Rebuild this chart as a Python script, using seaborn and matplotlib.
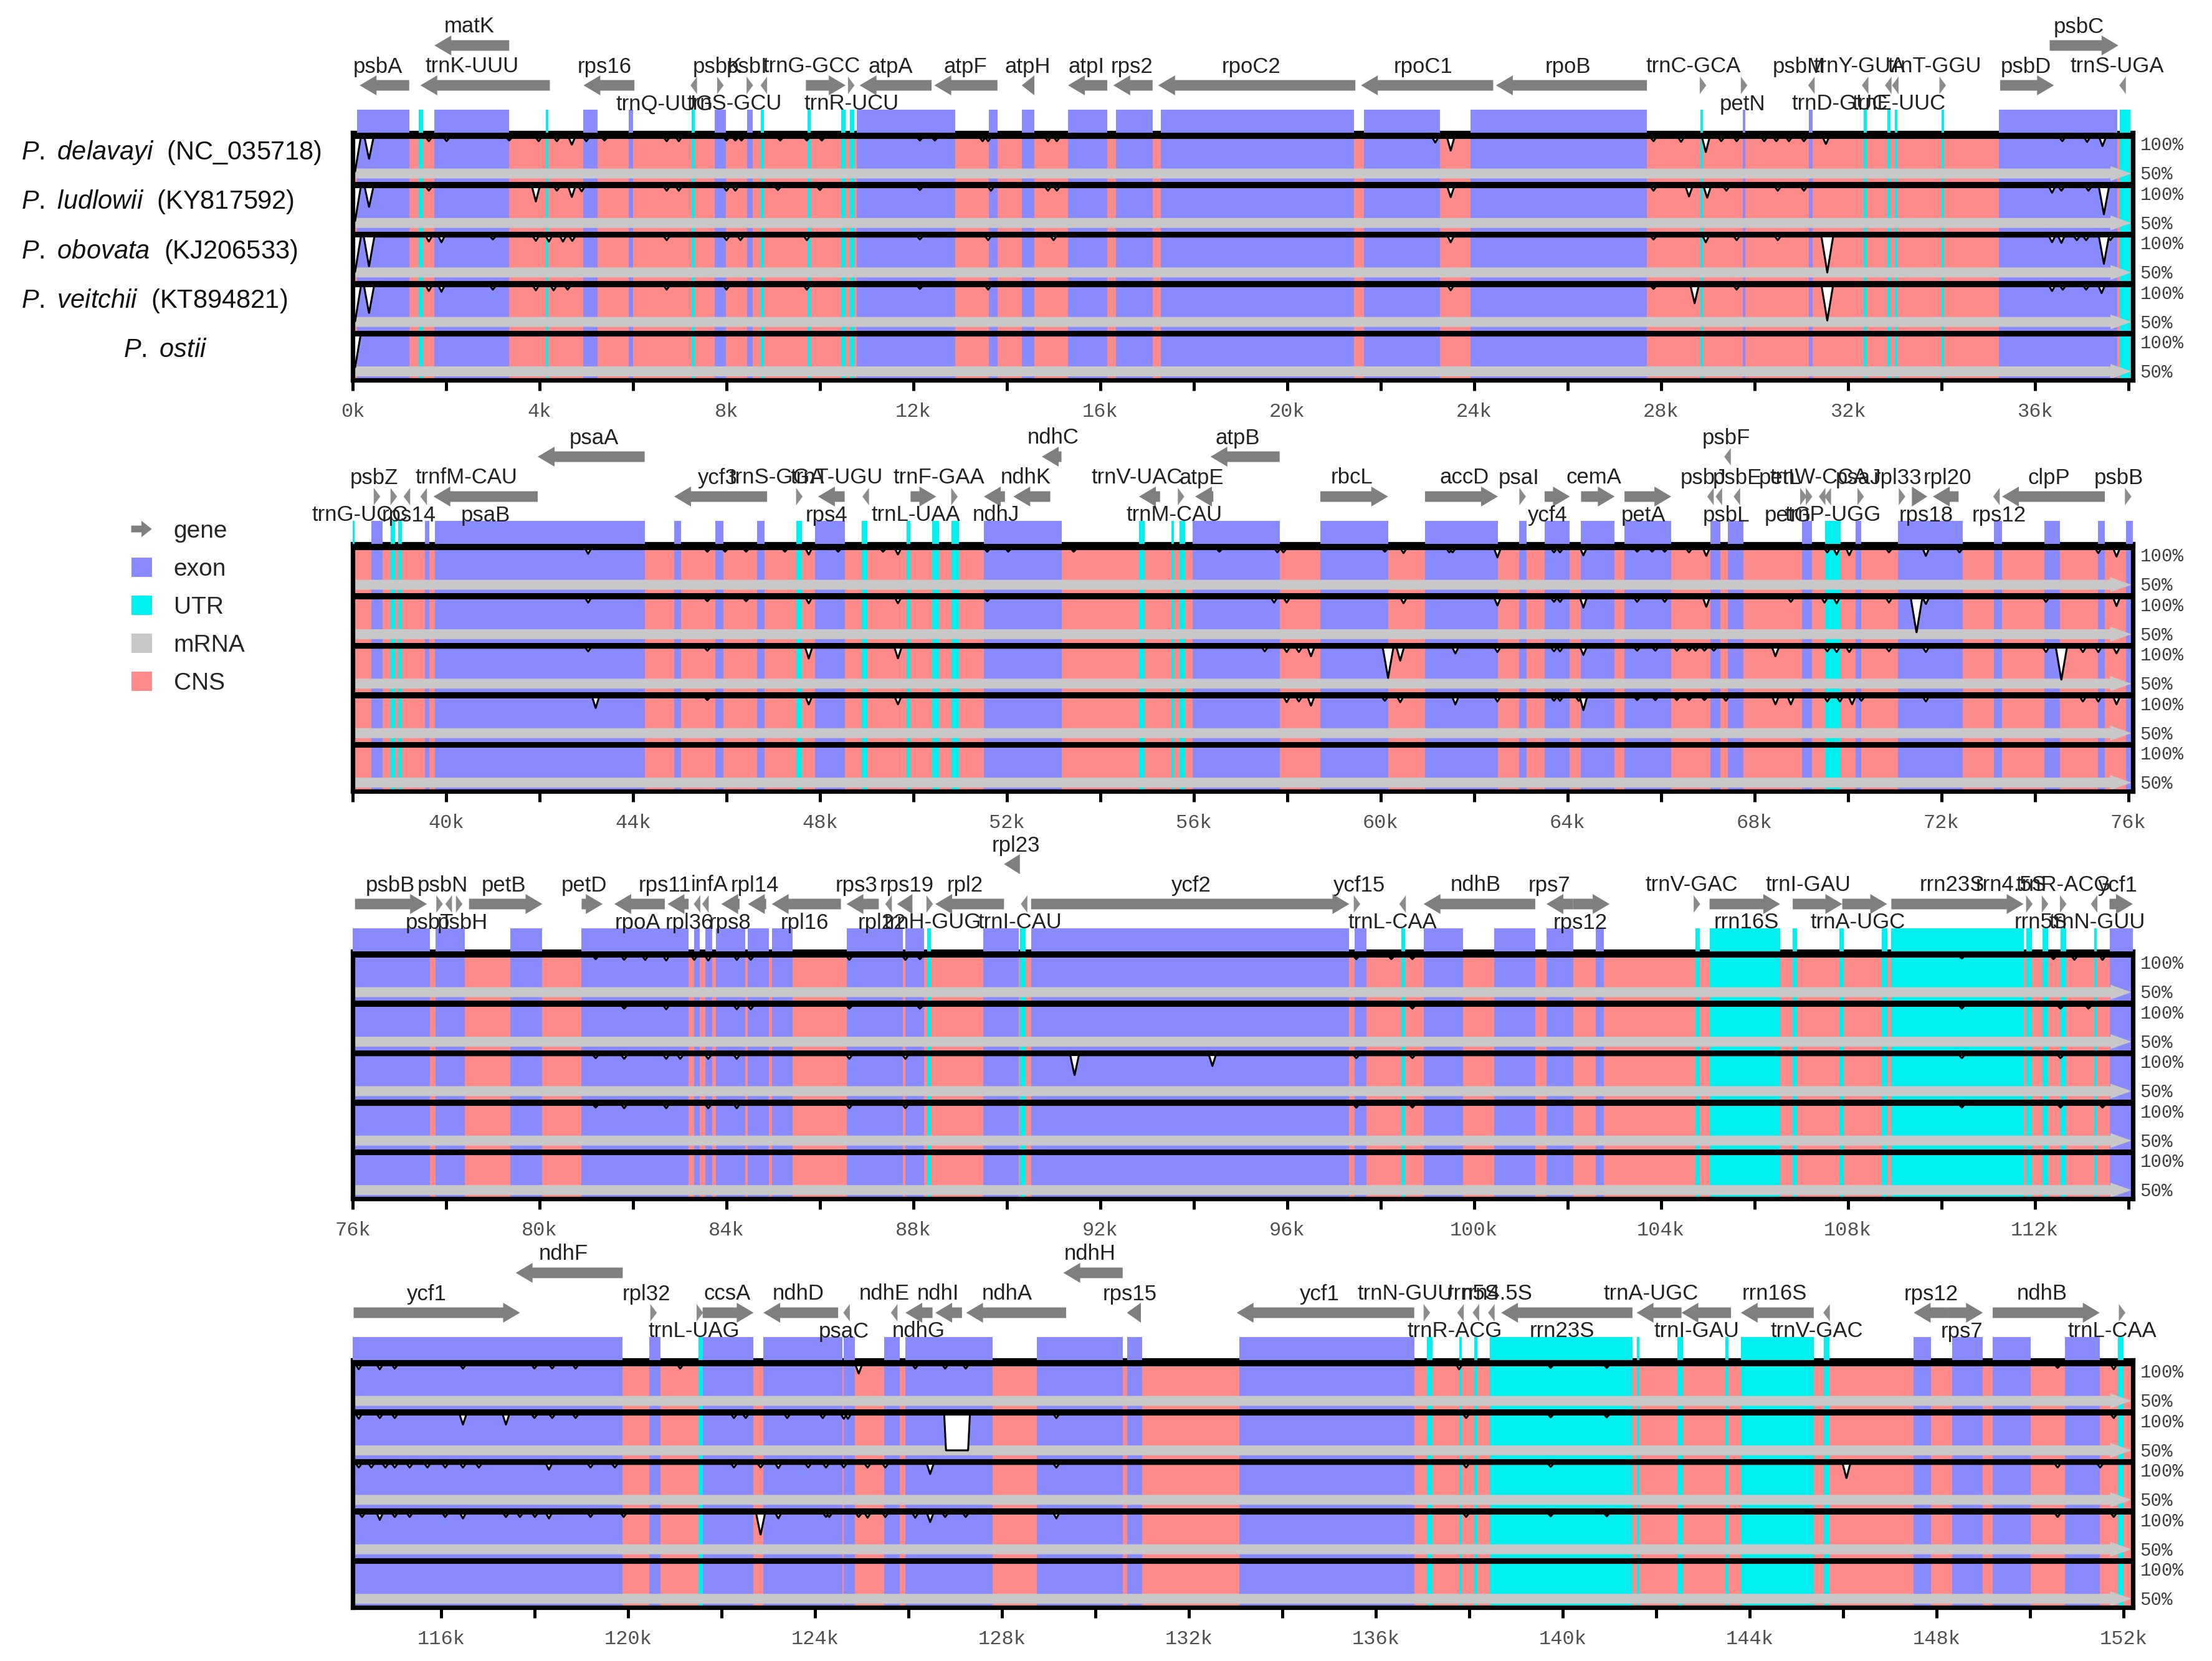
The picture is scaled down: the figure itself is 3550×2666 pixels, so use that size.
import numpy as np
import matplotlib
matplotlib.use("Agg")
import matplotlib.pyplot as plt
import matplotlib.patches as mpatches
import matplotlib.transforms as mtransforms
from matplotlib.legend_handler import HandlerPatch
import seaborn as sns

sns.set_theme(style="white")
plt.rcParams["font.family"] = ["Liberation Sans", "DejaVu Sans"]
plt.rcParams["mathtext.fontset"] = "custom"
plt.rcParams["mathtext.it"] = "Liberation Sans:italic"
plt.rcParams["mathtext.rm"] = "Liberation Sans"

# colours (mVISTA)
EXON = "#8A8AFF"
UTR = "#00F0F0"
CNS = "#FF8A8A"
MRNA = "#C8C8C8"
GENE = "#7F7F7F"

# panels (kb)
panel_start = [0.0, 38.0, 76.0, 114.1]
panel_len = 38.1

species = ["P. delavayi", "P. ludlowii", "P. obovata", "P. veitchii", "P. ostii"]
accession = ["(NC_035718)", "(KY817592)", "(KJ206533)", "(KT894821)", ""]

# annotation of the reference (P. ostii), kb
exon_blocks = [
    (0.09, 1.21), (1.75, 3.35), (4.94, 5.24), (5.91, 6.00), (7.75, 7.99), (8.44, 8.56),
    (10.79, 12.90), (13.62, 13.80), (14.32, 14.59), (15.31, 16.15), (16.34, 17.12),
    (17.30, 21.43), (21.64, 23.27), (23.93, 27.70), (29.75, 29.81), (31.16, 31.25),
    (35.23, 37.76),
    (38.40, 38.64), (39.55, 39.64), (39.76, 44.25), (44.88, 45.03), (45.76, 45.94),
    (46.66, 46.81), (47.90, 48.53), (51.51, 53.17), (55.97, 57.84), (58.71, 60.16),
    (60.95, 62.51), (62.96, 63.12), (63.51, 64.05), (64.29, 65.01), (65.22, 66.22),
    (67.06, 67.27), (67.43, 67.76), (69.02, 69.23), (70.17, 70.29), (71.07, 72.46),
    (73.12, 73.30), (74.21, 74.54), (75.35, 75.50), (75.95, 77.65),
    (77.77, 78.40), (79.37, 80.06), (80.90, 83.19), (83.31, 83.43), (83.55, 83.70),
    (83.77, 84.40), (84.46, 84.91), (84.97, 85.42), (86.57, 87.77), (87.83, 88.23),
    (89.49, 90.25), (90.52, 97.33), (97.45, 97.70), (98.92, 99.77), (100.43, 101.31),
    (101.55, 102.12), (102.60, 102.78), (113.60, 119.88),
    (120.45, 120.69), (121.59, 122.68), (122.89, 124.58), (124.61, 124.85),
    (125.48, 125.81), (125.93, 127.80), (128.74, 130.58), (130.67, 131.00),
    (133.08, 136.82), (147.51, 147.88), (148.33, 148.99), (149.20, 150.01),
    (150.74, 151.49),
]

utr_blocks = [
    (1.42, 1.51), (4.13, 4.19), (7.26, 7.32), (8.74, 8.80), (9.73, 9.80), (10.46, 10.55),
    (10.64, 10.73), (28.84, 28.90), (32.34, 32.40), (32.85, 32.91), (33.00, 33.06),
    (34.00, 34.06), (37.82, 38.04),
    (38.82, 38.91), (38.97, 39.06), (47.50, 47.62), (48.89, 49.01), (49.85, 49.94),
    (50.40, 50.55), (50.82, 50.97), (54.83, 54.95), (55.52, 55.58), (55.70, 55.82),
    (69.51, 69.84),
    (88.29, 88.38), (90.28, 90.40), (98.44, 98.53), (104.74, 104.83), (105.04, 106.55),
    (106.82, 106.91), (107.82, 107.91), (108.72, 108.84), (108.93, 111.76),
    (111.82, 111.94), (112.16, 112.28), (112.55, 112.67), (113.27, 113.33),
    (121.50, 121.59), (137.09, 137.21), (137.78, 137.84), (138.11, 138.17),
    (138.44, 141.49), (141.58, 141.64), (142.45, 142.57), (143.48, 143.54),
    (143.81, 145.37), (145.58, 145.70), (151.88, 152.00),
]

# genes: name, start, end, strand, tier, label centre
genes_row1 = [
    ("psbA", 0.15, 1.21, "-", "top", 0.54), ("trnK-UUU", 1.45, 4.22, "-", "top", 2.56),
    ("matK", 1.75, 3.35, "-", "up", 2.50), ("rps16", 4.94, 6.03, "-", "top", 5.39),
    ("trnQ-UUG", 7.25, 7.35, "-", "bot", 6.68), ("psbK", 7.75, 7.99, "+", "top", 7.81),
    ("psbI", 8.44, 8.56, "+", "top", 8.44), ("trnS-GCU", 8.77, 8.83, "-", "bot", 8.17),
    ("trnG-GCC", 9.70, 10.55, "+", "top", 9.83), ("trnR-UCU", 10.61, 10.73, "+", "bot", 10.67),
    ("atpA", 10.85, 12.39, "-", "top", 11.51), ("atpF", 12.45, 13.80, "-", "top", 13.11),
    ("atpH", 14.32, 14.59, "-", "top", 14.44), ("atpI", 15.31, 16.15, "-", "top", 15.70),
    ("rps2", 16.28, 17.12, "-", "top", 16.67), ("rpoC2", 17.24, 21.46, "-", "top", 19.23),
    ("rpoC1", 21.58, 24.41, "-", "top", 22.91), ("rpoB", 24.47, 27.70, "-", "top", 26.01),
    ("trnC-GCA", 28.87, 28.93, "+", "top", 28.69), ("petN", 29.72, 29.84, "+", "bot", 29.75),
    ("psbM", 31.16, 31.28, "-", "top", 30.95), ("trnD-GUC", 32.31, 32.43, "-", "bot", 31.83),
    ("trnY-GUA", 32.82, 32.91, "-", "top", 32.25), ("trnE-UUC", 32.97, 33.06, "-", "bot", 33.09),
    ("trnT-GGU", 33.97, 34.09, "+", "top", 33.85), ("psbD", 35.26, 36.41, "+", "top", 35.81),
    ("psbC", 36.32, 37.79, "+", "up", 36.95), ("trnS-UGA", 37.82, 37.94, "-", "top", 37.76),
]
genes_row2 = [
    ("psbZ", 38.40, 38.64, "+", "top", 38.46), ("trnG-UCC", 38.85, 38.91, "+", "bot", 38.15),
    ("trnfM-CAU", 39.13, 39.19, "-", "top", 40.43), ("rps14", 39.43, 39.61, "-", "bot", 39.20),
    ("psaB", 39.73, 41.96, "-", "bot", 40.85), ("psaA", 41.96, 44.25, "-", "up", 43.16),
    ("ycf3", 44.88, 46.87, "-", "top", 45.81), ("trnS-GGA", 47.53, 47.59, "+", "top", 47.08),
    ("rps4", 47.96, 48.53, "-", "bot", 48.14), ("trnT-UGU", 48.95, 49.01, "-", "top", 48.36),
    ("trnL-UAA", 49.94, 50.49, "+", "bot", 50.05), ("trnF-GAA", 50.82, 50.94, "+", "top", 50.55),
    ("ndhJ", 51.51, 51.96, "-", "bot", 51.77), ("ndhK", 52.14, 52.93, "-", "top", 52.41),
    ("ndhC", 52.75, 53.17, "-", "up", 52.99), ("trnV-UAC", 54.83, 55.28, "-", "top", 54.79),
    ("trnM-CAU", 55.70, 55.76, "+", "bot", 55.59), ("atpE", 56.03, 56.42, "-", "top", 56.17),
    ("atpB", 56.36, 57.84, "-", "up", 56.94), ("rbcL", 58.71, 60.16, "+", "top", 59.38),
    ("accD", 60.95, 62.51, "+", "top", 61.79), ("psaI", 62.96, 63.12, "+", "top", 62.96),
    ("ycf4", 63.51, 64.05, "+", "bot", 63.57), ("cemA", 64.29, 65.01, "+", "top", 64.56),
    ("petA", 65.22, 66.22, "+", "bot", 65.62), ("psbJ", 67.03, 67.09, "-", "top", 66.91),
    ("psbL", 67.21, 67.27, "-", "bot", 67.40), ("psbF", 67.39, 67.46, "-", "up", 67.40),
    ("psbE", 67.52, 67.73, "-", "top", 67.64), ("petL", 69.02, 69.08, "+", "top", 68.54),
    ("petG", 69.14, 69.20, "+", "bot", 68.72), ("trnW-CCA", 69.42, 69.48, "-", "top", 69.38),
    ("trnP-UGG", 69.54, 69.60, "-", "bot", 69.68), ("psaJ", 70.23, 70.32, "+", "top", 70.23),
    ("rpl33", 71.07, 71.25, "+", "top", 71.07), ("rps18", 71.37, 71.70, "+", "bot", 71.67),
    ("rpl20", 71.82, 72.37, "-", "top", 72.13), ("rps12", 73.15, 73.21, "-", "bot", 73.24),
    ("clpP", 73.30, 75.50, "-", "top", 74.30), ("psbB", 75.92, 76.08, "+", "top", 75.80),
]
genes_row3 = [
    ("psbB", 76.05, 77.59, "+", "top", 76.80), ("psbT", 77.83, 77.89, "+", "bot", 77.64),
    ("psbN", 77.98, 78.13, "-", "top", 77.92), ("psbH", 78.16, 78.40, "+", "bot", 78.35),
    ("petB", 78.49, 80.06, "+", "top", 79.24), ("petD", 80.90, 81.35, "+", "top", 80.96),
    ("rpoA", 81.60, 82.68, "-", "bot", 82.10), ("rps11", 82.74, 83.19, "-", "top", 82.68),
    ("rpl36", 83.34, 83.40, "-", "bot", 83.20), ("infA", 83.52, 83.58, "-", "top", 83.63),
    ("rps8", 83.89, 84.28, "-", "bot", 84.08), ("rpl14", 84.46, 84.85, "-", "top", 84.61),
    ("rpl16", 84.97, 86.45, "-", "bot", 85.67), ("rps3", 86.57, 87.26, "-", "top", 86.78),
    ("rpl22", 87.35, 87.59, "-", "bot", 87.33), ("rps19", 87.65, 87.98, "-", "top", 87.86),
    ("trnH-GUG", 88.32, 88.38, "+", "bot", 88.41), ("rpl2", 88.47, 89.94, "-", "top", 89.11),
    ("rpl23", 89.94, 90.28, "-", "up", 90.19), ("trnI-CAU", 90.34, 90.40, "-", "bot", 90.28),
    ("ycf2", 90.52, 97.33, "+", "top", 93.95), ("ycf15", 97.39, 97.60, "+", "top", 97.54),
    ("trnL-CAA", 98.44, 98.50, "-", "bot", 98.26), ("ndhB", 98.92, 101.31, "-", "top", 100.04),
    ("rps7", 101.55, 102.12, "-", "top", 101.61), ("rps12", 102.12, 102.90, "+", "bot", 102.27),
    ("trnV-GAC", 104.74, 104.80, "+", "top", 104.65), ("rrn16S", 105.04, 106.55, "+", "bot", 105.83),
    ("trnI-GAU", 106.82, 107.88, "+", "top", 107.15), ("trnA-UGC", 107.88, 108.84, "+", "bot", 108.21),
    ("rrn23S", 108.93, 111.76, "+", "top", 110.23), ("rrn4.5S", 111.85, 111.92, "+", "top", 111.49),
    ("rrn5S", 112.19, 112.25, "+", "bot", 112.13), ("trnR-ACG", 112.58, 112.64, "+", "top", 112.61),
    ("trnN-GUU", 113.24, 113.30, "-", "bot", 113.33), ("ycf1", 113.60, 114.10, "+", "top", 113.78),
]
genes_row4 = [
    ("ycf1", 114.12, 117.68, "+", "top", 115.69), ("ndhF", 117.59, 119.88, "-", "up", 118.61),
    ("rpl32", 120.45, 120.63, "+", "top", 120.39), ("trnL-UAG", 121.50, 121.56, "+", "bot", 121.41),
    ("ccsA", 121.59, 122.68, "+", "top", 122.11), ("ndhD", 122.89, 124.49, "-", "top", 123.64),
    ("psaC", 124.58, 124.76, "-", "bot", 124.61), ("ndhE", 125.57, 125.81, "-", "top", 125.48),
    ("ndhG", 125.93, 126.51, "-", "bot", 126.21), ("ndhI", 126.57, 127.14, "-", "top", 126.63),
    ("ndhA", 127.23, 129.37, "-", "top", 128.10), ("ndhH", 129.31, 130.58, "-", "up", 129.88),
    ("rps15", 130.67, 130.97, "-", "top", 130.73), ("ycf1", 133.02, 136.82, "-", "top", 134.80),
    ("trnN-GUU", 137.06, 137.12, "+", "top", 136.63), ("trnR-ACG", 137.78, 137.84, "-", "bot", 137.69),
    ("rrn5S", 138.11, 138.17, "-", "top", 138.08), ("rrn4.5S", 138.44, 138.50, "-", "top", 138.59),
    ("rrn23S", 138.68, 141.49, "-", "bot", 139.98), ("trnA-UGC", 141.58, 142.54, "-", "top", 141.88),
    ("trnI-GAU", 142.54, 143.60, "-", "bot", 142.87), ("rrn16S", 143.81, 145.37, "-", "top", 144.53),
    ("trnV-GAC", 145.61, 145.68, "-", "bot", 145.43), ("rps12", 147.51, 148.24, "-", "top", 147.88),
    ("rps7", 148.24, 148.99, "+", "bot", 148.54), ("ndhB", 149.20, 151.49, "+", "top", 150.26),
    ("trnL-CAA", 151.94, 152.00, "+", "bot", 151.76),
]
genes_by_row = [genes_row1, genes_row2, genes_row3, genes_row4]

# conservation dips: (position kb, lowest identity %)
dips_delavayi = [
    (0.05, 52), (0.35, 70), (1.63, 95), (2.01, 95), (3.35, 96), (3.98, 95), (4.37, 95),
    (4.69, 90), (5.00, 95), (5.39, 96), (6.72, 95), (6.98, 95), (8.00, 96), (8.19, 96),
    (8.32, 96), (9.15, 96), (9.72, 96), (10.04, 96), (12.14, 96), (12.46, 96), (13.48, 95),
    (13.60, 95), (14.88, 95), (15.07, 95), (23.17, 93), (23.50, 82), (27.84, 95), (28.43, 94),
    (28.96, 80), (29.29, 95), (29.62, 95), (30.21, 95), (30.47, 95), (30.74, 95), (31.06, 95),
    (31.53, 91), (36.59, 95), (37.12, 94), (37.45, 88),
    (43.04, 93), (45.59, 96), (45.97, 96), (46.42, 96), (47.25, 96), (47.76, 92), (48.39, 96),
    (49.35, 96), (49.67, 92), (51.58, 96), (52.03, 96), (53.43, 96), (56.55, 96), (57.79, 95),
    (57.92, 95), (60.09, 96), (60.49, 94), (61.47, 95), (61.54, 95), (62.50, 88), (63.71, 95),
    (63.84, 95), (64.34, 91), (65.49, 96), (65.81, 96), (66.08, 96), (66.60, 95), (66.97, 90),
    (69.56, 95), (69.76, 92), (70.03, 91), (70.88, 95), (71.67, 90), (72.39, 95), (75.36, 94),
    (75.75, 89),
    (81.20, 96), (81.81, 95), (82.26, 95), (82.71, 94), (83.31, 95), (83.61, 94), (84.22, 95),
    (84.52, 95), (86.63, 95), (87.83, 95), (88.14, 96), (97.48, 96), (98.23, 96), (98.68, 96),
    (110.44, 97), (112.40, 96), (112.85, 95), (113.45, 95),
    (114.23, 94), (114.68, 94), (115.00, 95), (116.46, 95), (117.99, 95), (118.37, 95),
    (118.87, 95), (121.11, 95), (124.93, 88), (126.14, 95), (126.78, 95), (127.22, 95),
    (137.78, 94), (139.74, 96), (140.94, 96), (150.59, 96), (151.79, 94),
]
dips_ludlowii = [
    (0.05, 52), (0.35, 72), (1.63, 95), (3.92, 80), (4.37, 95), (4.69, 86), (4.90, 94),
    (6.72, 95), (6.98, 95), (8.00, 95), (8.19, 95), (9.10, 96), (10.00, 96), (12.14, 96),
    (13.66, 95), (14.88, 95), (15.07, 95), (23.50, 86), (27.84, 95), (28.60, 87), (28.99, 85),
    (29.40, 95), (30.50, 95), (31.06, 95), (36.37, 92), (36.57, 95), (37.15, 95), (37.48, 62),
    (43.04, 94), (45.59, 96), (46.42, 96), (47.76, 93), (49.67, 93), (51.58, 96), (57.72, 94),
    (57.99, 94), (60.49, 93), (62.50, 90), (63.71, 95), (63.84, 95), (64.34, 87), (65.49, 95),
    (66.08, 95), (66.97, 88), (68.78, 95), (69.50, 94), (69.76, 93), (70.88, 94), (71.47, 52),
    (71.67, 92), (74.24, 95), (75.75, 89),
    (81.81, 96), (82.71, 95), (84.22, 95), (84.52, 95), (86.63, 96), (88.14, 96), (98.68, 96),
    (110.44, 96), (112.55, 96), (113.15, 96),
    (114.23, 94), (114.68, 95), (115.00, 95), (116.46, 86), (117.38, 86), (117.99, 95),
    (118.37, 95), (118.87, 95), (122.26, 95), (122.51, 95), (123.40, 95), (124.16, 95),
    (124.61, 94), (124.70, 94), (129.16, 95), (137.93, 95), (139.74, 96), (140.94, 96),
    (151.79, 95),
]
gaps_ludlowii = [(126.80, 127.27, 48)]
dips_obovata = [
    (0.05, 50), (0.35, 58), (1.63, 93), (1.90, 92), (3.00, 96), (3.92, 94), (4.20, 93),
    (4.50, 93), (4.70, 94), (6.72, 95), (8.00, 95), (8.30, 95), (9.72, 95), (12.14, 96),
    (13.60, 95), (15.00, 95), (23.50, 92), (27.84, 96), (28.96, 92), (29.62, 95), (30.50, 95),
    (31.56, 50), (36.37, 92), (36.57, 91), (36.90, 95), (37.10, 95), (37.48, 62), (37.62, 95),
    (43.04, 95), (45.59, 96), (47.76, 85), (49.67, 85), (57.52, 95), (57.99, 94), (58.25, 94),
    (58.51, 88), (60.16, 58), (60.42, 82), (61.60, 92), (62.50, 94), (63.71, 95), (63.84, 95),
    (64.34, 90), (65.49, 96), (65.88, 96), (66.34, 96), (66.60, 96), (66.74, 96), (66.93, 96),
    (67.13, 96), (68.45, 88), (69.56, 95), (69.76, 94), (70.03, 94), (70.88, 95), (71.67, 94),
    (74.24, 94), (74.57, 55), (75.03, 94), (75.36, 94), (75.75, 92),
    (81.20, 96), (81.81, 95), (82.71, 95), (83.01, 95), (83.61, 95), (84.22, 95), (86.63, 95),
    (87.83, 95), (91.45, 72), (94.40, 85), (97.48, 96), (98.68, 96), (110.44, 96), (112.55, 96),
    (114.23, 95), (114.50, 95), (114.80, 95), (115.00, 95), (115.32, 95), (115.70, 95),
    (116.08, 95), (116.46, 95), (116.80, 95), (118.30, 92), (119.19, 95), (119.71, 95),
    (122.26, 95), (122.83, 95), (123.21, 94), (123.85, 95), (124.23, 95), (124.61, 95),
    (125.12, 95), (125.50, 95), (126.46, 86), (129.16, 95), (137.93, 95), (139.74, 96),
    (146.07, 80), (150.59, 95), (151.50, 95),
]
dips_veitchii = [
    (0.05, 50), (0.35, 62), (1.63, 93), (1.90, 92), (3.00, 95), (3.92, 94), (4.30, 94),
    (4.60, 95), (6.72, 95), (8.00, 95), (9.72, 95), (12.14, 96), (13.60, 95), (23.50, 94),
    (27.84, 96), (28.72, 76), (29.62, 95), (31.56, 52), (36.37, 93), (36.60, 95), (37.10, 95),
    (37.43, 90),
    (43.20, 85), (45.59, 96), (47.76, 90), (49.67, 90), (57.99, 93), (58.25, 94), (58.51, 88),
    (60.09, 95), (60.42, 93), (61.60, 90), (62.50, 94), (63.71, 95), (63.84, 95), (64.24, 95),
    (64.34, 82), (65.49, 96), (65.88, 96), (66.34, 96), (66.60, 96), (66.93, 96), (67.39, 95),
    (68.45, 90), (68.78, 90), (69.56, 94), (69.83, 94), (70.09, 90), (70.29, 95), (71.67, 94),
    (75.03, 94), (75.36, 94), (75.75, 90),
    (81.20, 96), (81.81, 95), (82.71, 95), (83.61, 95), (84.22, 95), (86.63, 95), (87.83, 95),
    (97.48, 96), (98.68, 96), (110.44, 96), (112.55, 96), (113.45, 96),
    (114.30, 95), (114.68, 91), (115.00, 95), (115.32, 95), (116.08, 95), (116.46, 93),
    (117.38, 95), (117.68, 95), (118.00, 95), (118.30, 93), (119.19, 95), (119.90, 95),
    (122.83, 70), (123.21, 93), (124.23, 95), (124.30, 95), (124.93, 95), (125.12, 94),
    (125.50, 95), (126.14, 94), (126.46, 88), (126.78, 95), (127.22, 95), (129.16, 93),
    (137.93, 95), (139.74, 96), (140.94, 96), (150.59, 95), (151.79, 95),
]
dips_ostii = [(0.05, 55)]

track_dips = [dips_delavayi, dips_ludlowii, dips_obovata, dips_veitchii, dips_ostii]
track_gaps = [[], gaps_ludlowii, [], [], []]

# layout in output pixels
W, H = 3550, 2666
left_px, right_px = 566, 3423
frame_top = [213, 873, 1527, 2183]
frame_h = 397
ann_h = 190


def identity_curve(xs, dips, gaps):
    v = np.full_like(xs, 100.0)
    for pos, lo in dips:
        w = 0.05 + 0.0015 * (100 - lo)
        v = np.minimum(v, lo + (100 - lo) * np.clip(np.abs(xs - pos) / w, 0, 1))
    for s, e, lo in gaps:
        d = np.maximum(np.maximum(s - xs, xs - e), 0)
        v = np.minimum(v, lo + (100 - lo) * np.clip(d / 0.04, 0, 1))
    return v


def to_track(v, base):
    return base + 0.175 + (np.clip(v, 50, 100) - 50) / 50 * 0.725


class GeneArrowHandler(HandlerPatch):
    def create_artists(self, legend, orig_handle, xdescent, ydescent, width, height, fontsize, trans):
        arrow = mpatches.FancyArrow(-xdescent, -ydescent + height / 2, width, 0,
                                    width=height * 0.35, head_width=height * 0.85,
                                    head_length=width * 0.5, length_includes_head=True,
                                    color=GENE, lw=0)
        arrow.set_transform(trans)
        return [arrow]


fig = plt.figure(figsize=(W / 200, H / 200), dpi=200)
fig.patch.set_facecolor("white")

exon_bars = [(s, e - s) for s, e in exon_blocks]
utr_bars = [(s, e - s) for s, e in utr_blocks]

for r in range(4):
    x0 = panel_start[r]
    x1 = x0 + panel_len
    top = frame_top[r]
    ax = fig.add_axes([left_px / W, 1 - (top + frame_h) / H, (right_px - left_px) / W, frame_h / H])
    ax_a = fig.add_axes([left_px / W, 1 - top / H, (right_px - left_px) / W, ann_h / H])

    # --- tracks
    ax.set_facecolor(CNS)
    ax.broken_barh(exon_bars, (0, 5), facecolors=EXON, lw=0, zorder=0.5)
    ax.broken_barh(utr_bars, (0, 5), facecolors=UTR, lw=0, zorder=0.6)
    xs = np.arange(x0, x1 + 0.004, 0.004)
    for k in range(5):
        base = 4 - k
        ax.add_patch(mpatches.FancyArrow(x0, base + 0.175, panel_len - 0.03, 0, width=0.2,
                                         head_width=0.3, head_length=0.45,
                                         length_includes_head=True, color=MRNA, lw=0, zorder=1))
        yv = to_track(identity_curve(xs, track_dips[k], track_gaps[k]), base)
        ax.fill_between(xs, yv, base + 0.95, color="white", lw=0, zorder=2)
        sns.lineplot(x=xs, y=yv, ax=ax, color="black", lw=1.1, estimator=None, sort=False, zorder=3)
        ax.axhspan(base + 0.88, base + 1.0, color="black", lw=0, zorder=4)
        lab_tr = mtransforms.blended_transform_factory(ax.transAxes, ax.transData)
        ax.text(1.004, base + 0.92, "100%", transform=lab_tr, va="top", ha="left",
                fontsize=10.5, family="Liberation Mono", color="#404040")
        ax.text(1.004, base + 0.15, "50%", transform=lab_tr, va="center", ha="left",
                fontsize=10.5, family="Liberation Mono", color="#404040")
        if r == 0:
            sp_tr = mtransforms.blended_transform_factory(fig.transFigure, ax.transData)
            name = r"$\mathit{" + species[k].replace(" ", r"\ ") + "}$"
            if accession[k]:
                ax.text(34 / W, base + 0.6, name + "  " + accession[k], transform=sp_tr,
                        va="center", ha="left", fontsize=15, color="#111111")
            else:
                ax.text(265 / W, base + 0.6, name, transform=sp_tr,
                        va="center", ha="center", fontsize=15, color="#111111")

    ax.set_xlim(x0, x1)
    ax.set_ylim(0, 5)
    ax.set_yticks([])
    ticks = np.arange(np.ceil(x0 / 2) * 2, x1 + 0.01, 2)
    ax.set_xticks(ticks)
    ax.set_xticklabels([f"{int(round(t))}k" if int(round(t)) % 4 == 0 else "" for t in ticks],
                       fontfamily="Liberation Mono", fontsize=11.5, color="#505050")
    ax.tick_params(axis="x", bottom=True, direction="out", length=6, width=1.8,
                   color="black", pad=7)
    for sp in ax.spines.values():
        sp.set_visible(True)
        sp.set_color("black")
        sp.set_linewidth(2.6)
        sp.set_zorder(6)

    # --- annotation
    ax_a.set_xlim(x0, x1)
    ax_a.set_ylim(0, ann_h)
    ax_a.axis("off")
    ax_a.broken_barh(exon_bars, (0, 37), facecolors=EXON, lw=0, zorder=1)
    ax_a.broken_barh(utr_bars, (0, 37), facecolors=UTR, lw=0, zorder=1.1)
    for name, s, e, strand, tier, lab in genes_by_row[r]:
        ya = 140 if tier == "up" else 76
        length = e - s
        if length < 0.25:
            c = (s + e) / 2
            hl = 0.14
            xa = c - hl / 2 if strand == "+" else c + hl / 2
            dx = hl if strand == "+" else -hl
            arr = mpatches.FancyArrow(xa, ya, dx, 0, width=1.5, head_width=28, head_length=hl,
                                      length_includes_head=True, color="#8C8C8C", lw=0, zorder=3)
        else:
            hl = min(0.36, length)
            xa = s if strand == "+" else e
            dx = length if strand == "+" else -length
            arr = mpatches.FancyArrow(xa, ya, dx, 0, width=17, head_width=32, head_length=hl,
                                      length_includes_head=True, color=GENE, lw=0, zorder=3)
        ax_a.add_patch(arr)
        ylab = {"up": 170, "top": 106, "bot": 46}[tier]
        ax_a.text(lab, ylab, name, ha="center", va="center", fontsize=12.5,
                  color="#222222", zorder=4, clip_on=False)

# legend
handles = [mpatches.FancyArrow(0, 0, 1, 0, color=GENE),
           mpatches.Patch(color=EXON, lw=0), mpatches.Patch(color=UTR, lw=0),
           mpatches.Patch(color=MRNA, lw=0), mpatches.Patch(color=CNS, lw=0)]
fig.legend(handles, ["gene", "exon", "UTR", "mRNA", "CNS"],
           handler_map={mpatches.FancyArrow: GeneArrowHandler()},
           loc="upper left", bbox_to_anchor=(195 / W, 1 - 818 / H), frameon=False,
           fontsize=14, handlelength=0.85, handleheight=0.85, labelspacing=0.62,
           handletextpad=0.9, borderaxespad=0)

fig.savefig("out.png", dpi=200, facecolor="white")
